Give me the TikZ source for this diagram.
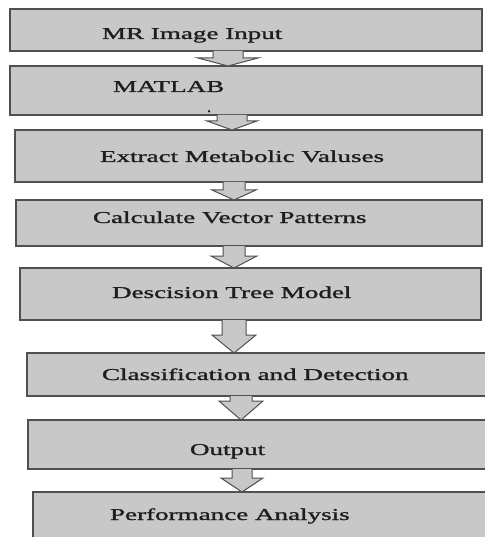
\documentclass[tikz,border=0pt]{standalone}
\usepackage{fontspec}
\setmainfont{Liberation Serif}
\newfontfamily\heavyserif[FakeBold=1.2]{Liberation Serif}
\usetikzlibrary{calc}
\definecolor{boxfill}{HTML}{C8C8C8}
\definecolor{edge}{HTML}{505050}
\definecolor{ink}{HTML}{1E1E1E}
\newcommand\sx[1]{\scalebox{1.63}[1]{#1}}
\newcommand\blockarr[6]{%
  \draw[arr] let \p1=(#1.south), \p2=(#2.north) in
    (#3pt-#4pt,\y1) -- (#3pt-#4pt,\y2+#6pt) -- (#3pt-#5pt,\y2+#6pt) -- (#3pt,\y2)
    -- (#3pt+#5pt,\y2+#6pt) -- (#3pt+#4pt,\y2+#6pt) -- (#3pt+#4pt,\y1);}
\begin{document}
\begin{tikzpicture}[x=1pt,y=-1pt,
  box/.style={draw=edge,fill=boxfill,line width=1.2pt,inner sep=0pt,outer sep=0pt,anchor=north west},
  lbl/.style={inner sep=0pt,outer sep=0pt,anchor=base west,text=ink,font=\heavyserif\fontsize{16.6}{20}\selectfont},
  arr/.style={draw=edge,fill=boxfill,line width=1pt,line join=miter}]
\useasboundingbox (0,0) rectangle (484,537);
% boxes
\node[box,minimum width=472pt,minimum height=42pt] (b1) at (10,9) {};
\node[box,minimum width=472pt,minimum height=49pt] (b2) at (10,66) {};
\node[box,minimum width=467pt,minimum height=52pt] (b3) at (15,130) {};
\node[box,minimum width=466pt,minimum height=46pt] (b4) at (16,200) {};
\node[box,minimum width=461pt,minimum height=52pt] (b5) at (20,268) {};
\node[box,minimum width=462pt,minimum height=43pt] (b6) at (27,353) {};
\node[box,minimum width=462pt,minimum height=49pt] (b7) at (28,420) {};
\node[box,minimum width=460pt,minimum height=50pt] (b8) at (33,492) {};
% block arrows
\blockarr{b1}{b2}{228}{15}{30}{8}
\blockarr{b2}{b3}{232}{15}{25}{9}
\blockarr{b3}{b4}{234}{11}{22}{10}
\blockarr{b4}{b5}{234}{11}{23}{12}
\blockarr{b5}{b6}{234}{12}{22}{18}
\blockarr{b6}{b7}{241}{11}{22}{19}
\blockarr{b7}{b8}{242}{10}{21}{14}
% labels
\node[lbl] (t1) at (102,39) {\sx{MR Image Input}};
\node[lbl] (t2) at (113,92) {\sx{MATLAB}};
\node[lbl] (t2dot) at (207,112) {.};
\node[lbl] (t3) at (100,162) {\sx{Extract Metabolic Valuses}};
\node[lbl] (t4) at (93,223) {\sx{Calculate Vector Patterns}};
\node[lbl] (t5) at (112,298) {\sx{Descision Tree Model}};
\node[lbl] (t6) at (102,380) {\sx{Classification and Detection}};
\node[lbl] (t7) at (190,455) {\sx{Output}};
\node[lbl] (t8) at (110,520) {\sx{Performance Analysis}};
\end{tikzpicture}
\end{document}
